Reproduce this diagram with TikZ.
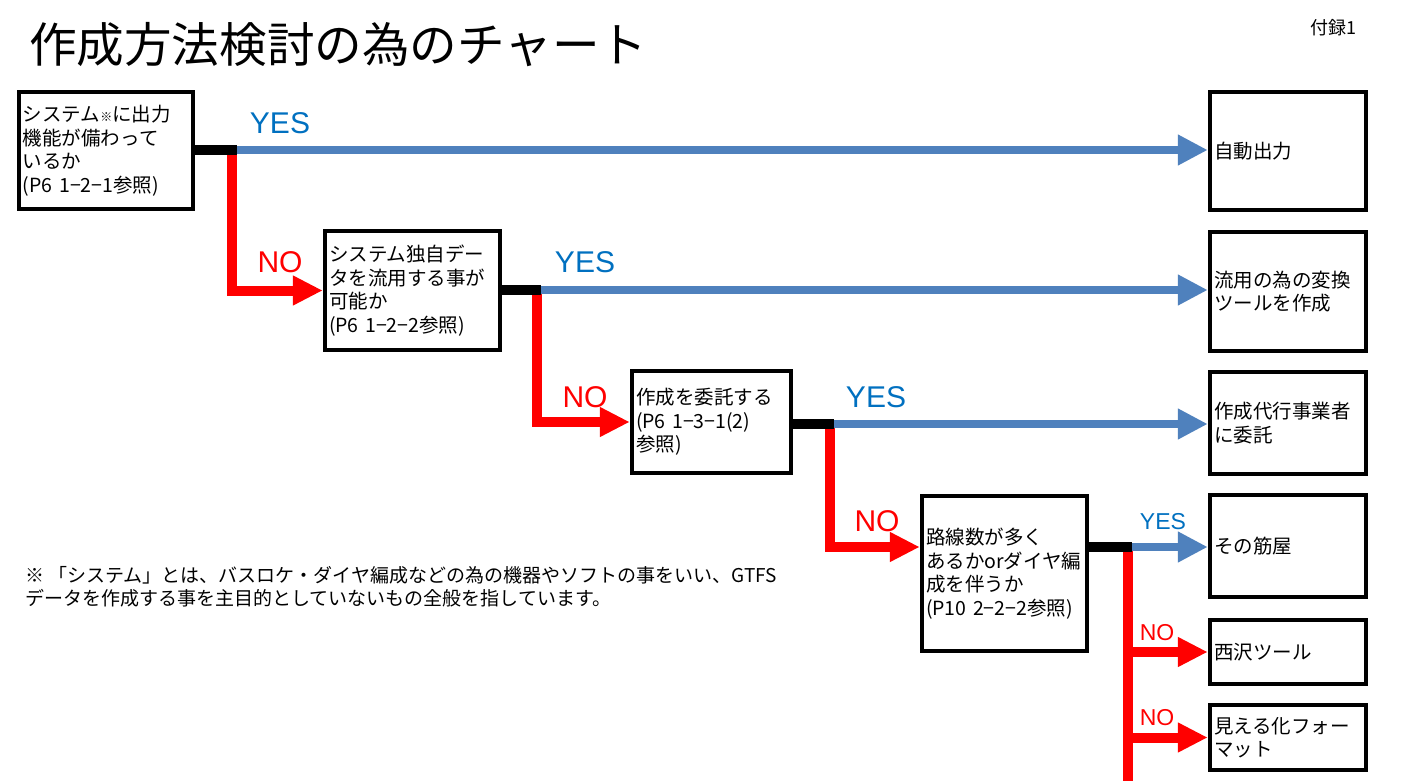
\documentclass[tikz,border=0pt]{standalone}
\usepackage{fontspec}
\setmainfont{Noto Sans CJK JP}
\newfontfamily\latfont{Liberation Sans}
\usetikzlibrary{arrows.meta}
\definecolor{chartblue}{HTML}{4F81BD}
\definecolor{chartyes}{HTML}{0070C0}
\definecolor{chartred}{HTML}{FF0000}
\tikzset{
  qbox/.style={draw=black, line width=4.5pt, align=left, inner sep=4pt,
               font=\fontsize{19.5}{23.5}\selectfont},
  abox/.style={qbox, minimum width=156pt, text width=148pt},
  yesline/.style={-{Triangle[length=30pt,width=29pt]}, line width=7.5pt, draw=chartblue},
  noline/.style={-{Triangle[length=30pt,width=28pt]}, line width=10pt, draw=chartred,
                 line join=miter},
  stub/.style={line width=10pt, draw=black},
  yeslbl/.style={font=\latfont\fontsize{30}{30}\selectfont, text=chartyes, inner sep=0pt},
  nolbl/.style={yeslbl, text=chartred},
  yessm/.style={yeslbl, font=\latfont\fontsize{23}{23}\selectfont},
  nosm/.style={nolbl, font=\latfont\fontsize{23}{23}\selectfont},
}

\begin{document}
\begin{tikzpicture}[x=1pt, y=-1pt]
  \fill[white] (0,0) rectangle (1401,781);
  \useasboundingbox (0,0) rectangle (1401,781);

  \node[anchor=west, inner sep=0pt, font=\fontsize{47.6}{50}\selectfont] (title) at (29,45) {作成方法検討の為のチャート};
  \node[inner sep=0pt, font=\fontsize{18}{20}\selectfont] (appx) at (1333,28) {付録1};

  % questions
  \node[qbox, minimum width=174pt, minimum height=117pt, text width=166pt] (q1) at (106,150.5)
    {システム{\fontsize{12}{12}\selectfont ※}に出力\\機能が備わって\\いるか\\(P6 1−2−1参照)};
  \node[qbox, minimum width=175pt, minimum height=119pt, text width=167pt] (q2) at (412.5,290.5)
    {システム独自デー\\タを流用する事が\\可能か\\(P6 1−2−2参照)};
  \node[qbox, minimum width=159pt, minimum height=102pt, text width=151pt] (q3) at (711.5,422)
    {作成を委託する\\(P6 1−3−1(2)\\参照)};
  \node[qbox, minimum width=165pt, minimum height=155pt, text width=157pt] (q4) at (1004.5,573.5)
    {路線数が多く\\あるかorダイヤ編\\成を伴うか\\(P10 2−2−2参照)};

  % answers
  \node[abox, minimum height=118pt] (r1) at (1288,151) {自動出力};
  \node[abox, minimum height=119pt] (r2) at (1288,291.5) {流用の為の変換\\ツールを作成};
  \node[abox, minimum height=102pt] (r3) at (1288,423) {作成代行事業者\\に委託};
  \node[abox, minimum height=102pt] (r4) at (1288,546) {その筋屋};
  \node[abox, minimum height=64pt] (r5) at (1288,652) {西沢ツール};
  \node[abox, minimum height=65pt] (r6) at (1288,737.5) {見える化フォー\\マット};

  \node[anchor=west, align=left, inner sep=0pt, font=\fontsize{19}{23}\selectfont] (note) at (25,587)
    {※ 「システム」とは、バスロケ・ダイヤ編成などの為の機器やソフトの事をいい、GTFS\\データを作成する事を主目的としていないもの全般を指しています。};

  % junctions
  \coordinate (j1) at (232,150);  \coordinate (e1) at (237,150);
  \coordinate (j2) at (537,290);  \coordinate (e2) at (541,290);
  \coordinate (j3) at (830,424);  \coordinate (e3) at (834,424);
  \coordinate (n3) at (830,547);
  \coordinate (j4) at (1128,547); \coordinate (e4) at (1132,547);
  \coordinate (bot) at (1128,781);

  \draw[noline] (j1) -- (j1 |- q2.west) -- (q2.west);
  \draw[noline] (j2) -- (j2 |- q3.west) -- (q3.west);
  \draw[noline] (j3) -- (n3) -- (n3 -| q4.west);
  \draw[noline, -] (j4) -- (bot);
  \draw[noline] (j4 |- r5.west) -- (r5.west);
  \draw[noline] (j4 |- r6.west) -- (r6.west);

  \draw[yesline] (e1) -- (e1 -| r1.west);
  \draw[yesline] (e2) -- (e2 -| r2.west);
  \draw[yesline] (e3) -- (e3 -| r3.west);
  \draw[yesline] (e4) -- (e4 -| r4.west);

  \draw[stub] (q1.east |- j1) -- (e1);
  \draw[stub] (q2.east |- j2) -- (e2);
  \draw[stub] (q3.east |- j3) -- (e3);
  \draw[stub] (q4.east |- j4) -- (e4);

  \node[yeslbl] (yes1) at (280,123) {YES};
  \node[nolbl] (no1) at (280,262) {NO};
  \node[yeslbl] (yes2) at (585,262) {YES};
  \node[nolbl] (no2) at (585,397) {NO};
  \node[yeslbl] (yes3) at (876,397) {YES};
  \node[nolbl] (no3) at (877,521) {NO};
  \node[yessm] (yes4) at (1163,522) {YES};
  \node[nosm] (no4) at (1157,633) {NO};
  \node[nosm] (no5) at (1157,718) {NO};
\end{tikzpicture}
\end{document}
